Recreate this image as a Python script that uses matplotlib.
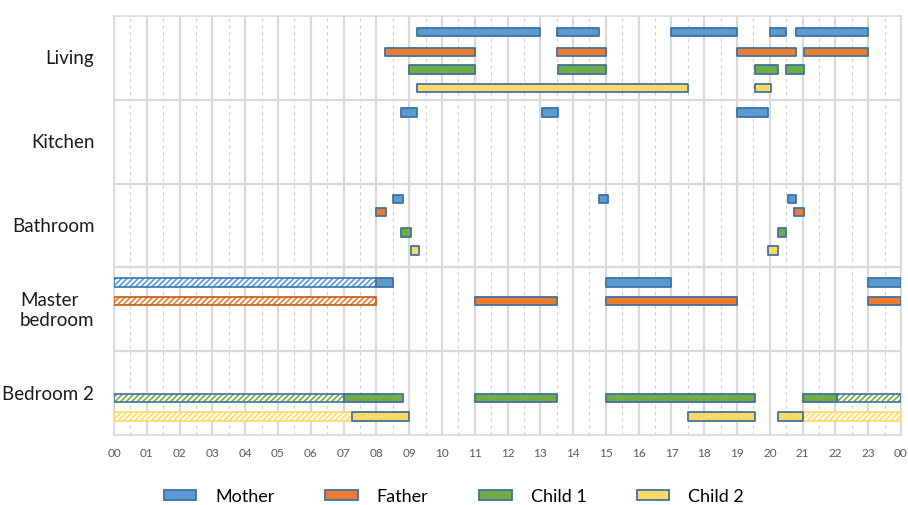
# Daily room occupancy of a family of four, hour by hour
import matplotlib.pyplot as plt
from matplotlib.patches import Patch

plt.rcParams["font.family"] = ["Lato", "DejaVu Sans"]

rooms = ["Living", "Kitchen", "Bathroom", "Master\nbedroom", "Bedroom 2"]
people = ["Mother", "Father", "Child 1", "Child 2"]
hour_labels = ["%02d" % h for h in range(24)] + ["00"]

# (start hour, end hour) per person per room
living_mother = [(9.25, 13.0), (13.5, 14.8), (17.0, 19.0), (20.0, 20.5), (20.8, 23.0)]
living_father = [(8.25, 11.0), (13.5, 15.0), (19.0, 20.8), (21.05, 23.0)]
living_child1 = [(9.0, 11.0), (13.55, 15.0), (19.55, 20.25), (20.5, 21.05)]
living_child2 = [(9.25, 17.5), (19.55, 20.05)]

kitchen_mother = [(8.75, 9.25), (13.05, 13.55), (19.0, 19.95)]

bathroom_mother = [(8.5, 8.8), (14.8, 15.05), (20.55, 20.8)]
bathroom_father = [(8.0, 8.3), (20.75, 21.05)]
bathroom_child1 = [(8.75, 9.05), (20.25, 20.5)]
bathroom_child2 = [(9.05, 9.3), (19.95, 20.25)]

master_mother = [(8.0, 8.5), (15.0, 17.0), (23.0, 24.0)]
master_father = [(11.0, 13.5), (15.0, 19.0), (23.0, 24.0)]
master_mother_sleep = [(0.0, 8.0)]
master_father_sleep = [(0.0, 8.0)]

bed2_child1 = [(7.0, 8.8), (11.0, 13.5), (15.0, 19.55), (21.0, 22.05)]
bed2_child2 = [(7.25, 9.0), (17.5, 19.55), (20.25, 21.0)]
bed2_child1_sleep = [(0.0, 7.0), (22.05, 24.0)]
bed2_child2_sleep = [(0.0, 7.25), (21.0, 24.0)]

colors = {"Mother": "#5b9bd5", "Father": "#ed7d31", "Child 1": "#70ad47", "Child 2": "#ffd966"}
hatch_edges = {"Mother": "#2e75b6", "Father": "#c55a11", "Child 1": "#41719c", "Child 2": "#ffd966"}
edge = "#41719c"

# row position (fraction of room height from top) for each person in each room
row_pos = {
    0: {"Mother": 0.19, "Father": 0.43, "Child 1": 0.64, "Child 2": 0.86},
    1: {"Mother": 0.15},
    2: {"Mother": 0.185, "Father": 0.34, "Child 1": 0.585, "Child 2": 0.80},
    3: {"Mother": 0.18, "Father": 0.40},
    4: {"Child 1": 0.56, "Child 2": 0.78},
}

awake = [
    (0, "Mother", living_mother), (0, "Father", living_father),
    (0, "Child 1", living_child1), (0, "Child 2", living_child2),
    (1, "Mother", kitchen_mother),
    (2, "Mother", bathroom_mother), (2, "Father", bathroom_father),
    (2, "Child 1", bathroom_child1), (2, "Child 2", bathroom_child2),
    (3, "Mother", master_mother), (3, "Father", master_father),
    (4, "Child 1", bed2_child1), (4, "Child 2", bed2_child2),
]
asleep = [
    (3, "Mother", master_mother_sleep), (3, "Father", master_father_sleep),
    (4, "Child 1", bed2_child1_sleep), (4, "Child 2", bed2_child2_sleep),
]

plt.rcParams["hatch.linewidth"] = 1.2

fig = plt.figure(figsize=(9.08, 5.06), dpi=100)
ax = fig.add_axes([114 / 908, 1 - 436 / 506, 787 / 908, 419 / 506])

# grid
for h in range(25):
    ax.axvline(h, color="#d9d9d9", lw=1.6, zorder=0)
for h in range(24):
    ax.axvline(h + 0.5, color="#d0d0d0", lw=0.8, ls=(0, (3, 3)), zorder=0)
for r in range(1, 5):
    ax.axhline(r, color="#d9d9d9", lw=1.6, zorder=0)

bar_h = 0.1
for room, person, spans in asleep:
    y = room + row_pos[room][person]
    segs = [(s, e - s) for s, e in spans]
    ax.broken_barh(segs, (y - bar_h / 2, bar_h), facecolor="white",
                   edgecolor=colors[person], hatch="//////", lw=0, zorder=2)
    ax.broken_barh(segs, (y - bar_h / 2, bar_h), facecolor="none",
                   edgecolor=hatch_edges[person], lw=1.2, zorder=3)

for room, person, spans in awake:
    y = room + row_pos[room][person]
    segs = [(s, e - s) for s, e in spans]
    ax.broken_barh(segs, (y - bar_h / 2, bar_h), facecolor=colors[person],
                   edgecolor=edge, lw=1.3, zorder=4)

ax.set_xlim(0, 24)
ax.set_ylim(5, 0)
ax.set_xticks(range(25))
ax.set_xticklabels(hour_labels, fontsize=8.5, color="#595959")
ax.tick_params(axis="x", length=0, pad=9)
ax.set_yticks([])
for sp in ax.spines.values():
    sp.set_color("#d9d9d9")
    sp.set_linewidth(1.2)

for i, name in enumerate(rooms):
    ax.text(-0.6, i + 0.5, name, ha="right", va="center", fontsize=13.5,
            color="#1a1a1a", multialignment="left")

handles = [Patch(facecolor=colors[p], edgecolor=edge, lw=1.3) for p in people]
fig.legend(handles, people, loc="center", bbox_to_anchor=(0.5, 0.017), ncol=4,
           frameon=False, fontsize=13, handlelength=1.8, handleheight=0.5,
           handletextpad=1.05, columnspacing=2.8)

fig.savefig("out.png", dpi=100)
